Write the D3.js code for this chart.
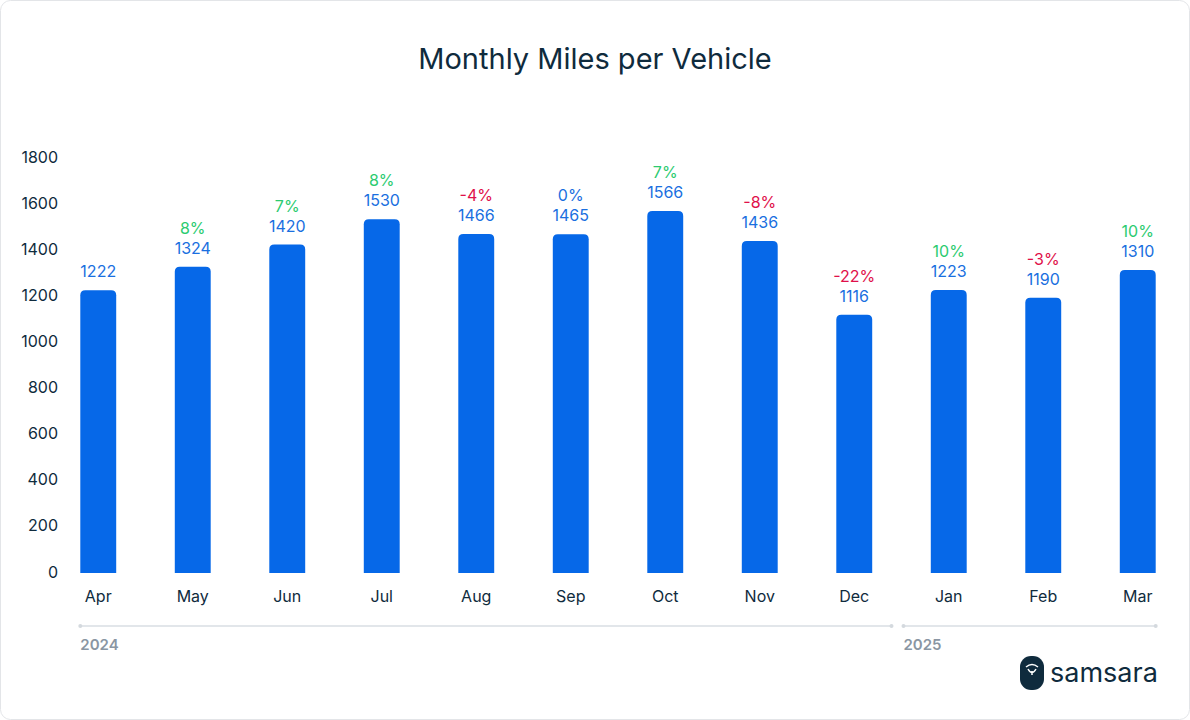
<!DOCTYPE html>
<html><head><meta charset="utf-8">
<script src="https://cdn.jsdelivr.net/npm/d3@7"></script>
<style>body{margin:0;background:#fff;font-family:Inter,"Noto Sans",sans-serif}</style>
</head><body>
<svg id="c" width="1190" height="720"></svg>
<script>
var months = ["Apr","May","Jun","Jul","Aug","Sep","Oct","Nov","Dec","Jan","Feb","Mar"];
var miles = [1222,1324,1420,1530,1466,1465,1566,1436,1116,1223,1190,1310];
var changes = [null,"8%","7%","8%","-4%","0%","7%","-8%","-22%","10%","-3%","10%"];
var yTicks = [0,200,400,600,800,1000,1200,1400,1600,1800];
var years = [{label:"2024", from:"Apr", to:"Dec"},{label:"2025", from:"Jan", to:"Mar"}];

var svg = d3.select("#c");
svg.append("rect").attr("x",0.5).attr("y",0.5).attr("width",1189).attr("height",719)
  .attr("rx",10).attr("fill","#fff").attr("stroke","#e3e5e8");

svg.append("text").attr("x",595).attr("y",69).attr("text-anchor","middle")
  .attr("font-size",29).attr("fill","#0f2b3d").text("Monthly Miles per Vehicle");

var x = d3.scaleBand().domain(months).range([51,1185]).paddingInner(0.62).paddingOuter(0.31);
var y = d3.scaleLinear().domain([0,1800]).range([572,157]);

svg.append("g").selectAll("text").data(yTicks).join("text")
  .attr("x",58).attr("y",d=>y(d)).attr("dy","0.35em").attr("text-anchor","end")
  .attr("font-size",16).attr("fill","#0f2b3d").text(d=>d);

// bars with rounded top
function barPath(d){
  var x0=x(d.m), w=x.bandwidth(), y0=y(d.v), y1=y(0)+1, r=5;
  return "M"+x0+","+y1+"V"+(y0+r)+"Q"+x0+","+y0+" "+(x0+r)+","+y0+
    "H"+(x0+w-r)+"Q"+(x0+w)+","+y0+" "+(x0+w)+","+(y0+r)+"V"+y1+"Z";
}
var data = months.map((m,i)=>({m:m,v:miles[i],c:changes[i]}));
svg.append("g").selectAll("path").data(data).join("path")
  .attr("d",barPath).attr("fill","#0668e8");

svg.append("g").selectAll("text").data(data).join("text")
  .attr("x",d=>x(d.m)+x.bandwidth()/2).attr("y",d=>y(d.v)-13)
  .attr("text-anchor","middle").attr("font-size",16).attr("fill","#1a6fe0").text(d=>d.v);

svg.append("g").selectAll("text").data(data.filter(d=>d.c)).join("text")
  .attr("x",d=>x(d.m)+x.bandwidth()/2).attr("y",d=>y(d.v)-33)
  .attr("text-anchor","middle").attr("font-size",16)
  .attr("fill",d=>d.c.startsWith("-")?"#e0104a":d.c==="0%"?"#1a6fe0":"#2ccb70").text(d=>d.c);

svg.append("g").selectAll("text").data(months).join("text")
  .attr("x",d=>x(d)+x.bandwidth()/2).attr("y",602).attr("text-anchor","middle")
  .attr("font-size",16).attr("fill","#0f2b3d").text(d=>d);

// year brackets
var gap = (x.step()-x.bandwidth())/2;
var prevEnd = null;
years.forEach(function(yr, i){
  var last = i === years.length-1;
  var x0 = prevEnd === null ? x(yr.from) : prevEnd + 12;
  var x1 = last ? x(yr.to)+x.bandwidth() : x(yr.to)+x.bandwidth()+gap-10;
  prevEnd = x1;
  var g = svg.append("g");
  g.append("line").attr("x1",x0).attr("x2",x1).attr("y1",626).attr("y2",626)
    .attr("stroke","#e2e6ea").attr("stroke-width",2);
  [x0,x1].forEach(v=>g.append("circle").attr("cx",v).attr("cy",626).attr("r",2).attr("fill","#d4d9de"));
  g.append("text").attr("x",x0).attr("y",650).attr("font-size",15).attr("font-weight",600)
    .attr("fill","#8a96a3").text(yr.label);
});

// logo
var lg = svg.append("g").attr("transform","translate(1020,656)");
lg.append("rect").attr("x",0).attr("y",0).attr("width",24).attr("height",34).attr("rx",11).attr("fill","#0f2b3d");
lg.append("path").attr("d","M6,11 Q12,6 18,11 M8,13 Q12,20 16,13 M12,15 V19").attr("stroke","#fff").attr("stroke-width",1.5).attr("fill","none");
lg.append("text").attr("x",30).attr("y",26).attr("font-size",27).attr("fill","#0f2b3d").text("samsara");
</script>
</body></html>
